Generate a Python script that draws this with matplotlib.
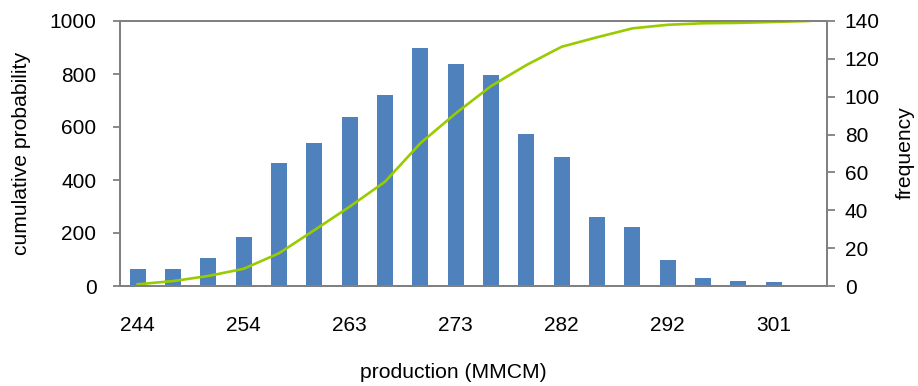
import matplotlib
matplotlib.use("Agg")
import matplotlib.pyplot as plt
import numpy as np

plt.rcParams['font.family'] = ['Liberation Sans', 'DejaVu Sans']

# Data
bar_values = [64, 64, 106, 185, 464, 540, 638, 721, 898, 838, 796, 574, 487, 260, 223, 98, 31, 19, 15]
line_values = [0.9, 2.6, 5.3, 9.1, 17.3, 29.5, 41.9, 55.1, 75.4, 91.2, 105.6, 116.7, 126.4, 131.4,
               136.1, 138.0, 138.8, 139.0, 139.5, 140.0]
xtick_idx = [0, 3, 6, 9, 12, 15, 18]
xtick_labels = ['244', '254', '263', '273', '282', '292', '301']

W, H = 918, 386
fig = plt.figure(figsize=(W / 100, H / 100), dpi=100)
ax = fig.add_axes([120 / W, 1 - 286 / H, (826.7 - 120) / W, (286 - 21) / H])
ax2 = ax.twinx()

gray = '#808080'
bar_color = '#4F81BD'
line_color = '#99CC00'

xb = np.arange(len(bar_values))
ax.bar(xb, bar_values, width=0.45, color=bar_color, zorder=2)
xl = np.arange(len(line_values))
ax2.plot(xl, line_values, color=line_color, lw=1.9, solid_joinstyle='round')

ax.set_xlim(-0.5, 19.5)
ax.set_ylim(0, 1000)
ax2.set_ylim(0, 140)
ax.set_yticks(np.arange(0, 1001, 200))
ax2.set_yticks(np.arange(0, 141, 20))
ax.set_xticks(xtick_idx)
ax.set_xticklabels(xtick_labels)

for a in (ax, ax2):
    for s in a.spines.values():
        s.set_color(gray)
        s.set_linewidth(1.3)

ax.tick_params(axis='x', length=0, pad=21.5, labelsize=15)
ax.tick_params(axis='y', length=5, width=1.3, color=gray, pad=12, labelsize=15)
ax2.tick_params(axis='y', length=6, width=1.3, color=gray, pad=7, labelsize=15)

fig.text(22 / W, 1 - 153 / H, 'cumulative probability', rotation=90, ha='center', va='center', fontsize=15.2)
fig.text(905 / W, 1 - 153 / H, 'frequency', rotation=90, ha='center', va='center', fontsize=15.2)
fig.text(453 / W, 1 - 373 / H, 'production (MMCM)', ha='center', va='center', fontsize=15.2)

fig.savefig('out.png', dpi=100)
